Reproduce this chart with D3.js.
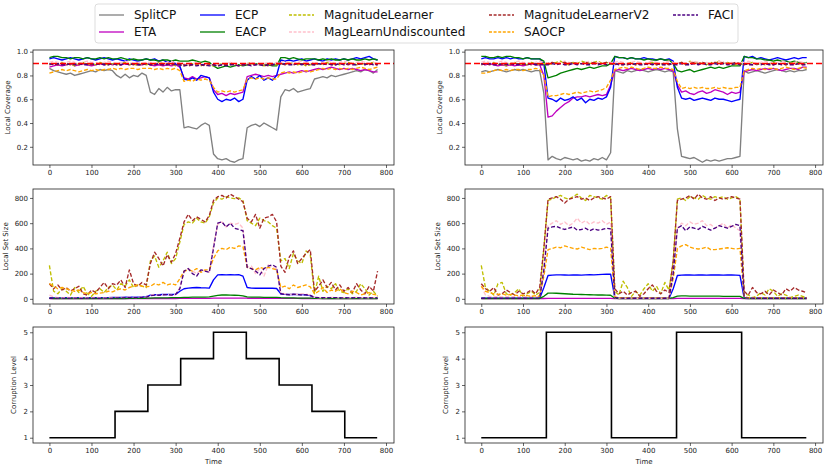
<!DOCTYPE html>
<html>
<head>
<meta charset="utf-8">
<script src="https://cdn.jsdelivr.net/npm/d3@7"></script>
<style>
  body { margin: 0; background: #fff; }
  text { font-family: "DejaVu Sans", sans-serif; }
</style>
</head>
<body>
<div id="chart"></div>
<script>
// time index of the sampled points (every 10 steps)
const timeSteps = d3.range(0, 781, 10);

const methods = ["SplitCP", "ETA", "ECP", "EACP", "MagnitudeLearner", "MagLearnUndiscounted", "MagnitudeLearnerV2", "SAOCP", "FACI"];
const methodColors = ["#808080", "#c000c0", "#0000ff", "#008000", "#bfbf00", "#ffc0cb", "#a52a2a", "#ffa500", "#4b0082"];
const methodDashed = [false, false, false, false, true, true, true, true, true];

const targetCoverage = 0.9;

// ---- local coverage, left (staircase corruption)
const covSplitL = [0.86,0.84,0.83,0.82,0.81,0.82,0.80,0.81,0.82,0.83,0.84,0.83,0.85,0.84,0.85,0.84,
  0.80,0.78,0.81,0.78,0.80,0.79,0.82,0.80, 0.66,0.64,0.69,0.66,0.70,0.67,0.68,0.68,
  0.36,0.37,0.36,0.35,0.38,0.40,0.38, 0.14,0.10,0.09,0.10,0.08,0.07,0.09,0.10,
  0.36,0.38,0.39,0.37,0.40,0.38,0.36,0.34, 0.62,0.68,0.67,0.69,0.66,0.67,0.68,0.69,
  0.77,0.78,0.79,0.78,0.80,0.79,0.80,0.81, 0.82,0.83,0.84,0.83,0.85,0.84,0.82,0.85];
const covEtaL = [0.87,0.88,0.89,0.88,0.89,0.90,0.88,0.89,0.90,0.89,0.88,0.89,0.90,0.89,0.90,0.89,
  0.90,0.89,0.90,0.89,0.90,0.89,0.89,0.90, 0.89,0.88,0.89,0.88,0.89,0.88,0.89,0.87,
  0.78,0.77,0.79,0.77,0.78,0.79,0.78, 0.68,0.64,0.65,0.63,0.65,0.64,0.65,0.66,
  0.79,0.80,0.81,0.80,0.79,0.80,0.79,0.80, 0.81,0.82,0.83,0.82,0.83,0.84,0.83,0.84,
  0.85,0.86,0.85,0.86,0.87,0.86,0.85,0.86, 0.85,0.86,0.85,0.84,0.85,0.84,0.83,0.83];
const covEcpL = [0.94,0.95,0.94,0.93,0.94,0.95,0.94,0.93,0.94,0.95,0.94,0.93,0.94,0.95,0.94,0.93,
  0.94,0.93,0.92,0.94,0.93,0.92,0.93,0.94, 0.93,0.94,0.92,0.93,0.91,0.92,0.90,0.88,
  0.77,0.76,0.78,0.76,0.80,0.79,0.78, 0.66,0.60,0.58,0.60,0.59,0.61,0.58,0.60,
  0.76,0.79,0.77,0.80,0.76,0.78,0.76,0.80, 0.93,0.92,0.93,0.92,0.93,0.94,0.92,0.93,
  0.94,0.93,0.92,0.94,0.93,0.94,0.93,0.94, 0.93,0.94,0.95,0.94,0.95,0.96,0.94,0.93];
const covEacpL = [0.95,0.96,0.96,0.95,0.95,0.94,0.95,0.95,0.94,0.95,0.94,0.94,0.95,0.94,0.95,0.94,
  0.94,0.95,0.94,0.93,0.94,0.93,0.93,0.94, 0.93,0.93,0.92,0.93,0.93,0.92,0.93,0.92,
  0.92,0.92,0.93,0.92,0.91,0.92,0.91, 0.88,0.86,0.87,0.88,0.87,0.88,0.89,0.88,
  0.89,0.90,0.90,0.89,0.90,0.89,0.88,0.88, 0.95,0.95,0.94,0.95,0.94,0.93,0.94,0.94,
  0.94,0.93,0.94,0.93,0.94,0.93,0.93,0.94, 0.93,0.94,0.93,0.93,0.94,0.93,0.94,0.93];
const covMagL = [0.90,0.89,0.90,0.91,0.89,0.90,0.88,0.90,0.91,0.89,0.90,0.89,0.91,0.90,0.89,0.90,
  0.89,0.90,0.91,0.89,0.90,0.88,0.90,0.89, 0.90,0.89,0.91,0.90,0.89,0.90,0.88,0.89,
  0.88,0.89,0.90,0.89,0.88,0.90,0.89, 0.88,0.89,0.90,0.89,0.89,0.90,0.88,0.89,
  0.90,0.91,0.89,0.90,0.88,0.89,0.90,0.89, 0.90,0.89,0.91,0.90,0.89,0.90,0.88,0.89,
  0.90,0.89,0.90,0.91,0.89,0.90,0.89,0.90, 0.91,0.90,0.89,0.90,0.89,0.90,0.91,0.89];
const covUndiscL = [0.91,0.92,0.91,0.90,0.91,0.92,0.91,0.90,0.91,0.92,0.91,0.91,0.90,0.91,0.92,0.91,
  0.90,0.91,0.92,0.91,0.90,0.91,0.90,0.91, 0.91,0.90,0.91,0.90,0.91,0.92,0.90,0.91,
  0.90,0.89,0.90,0.91,0.90,0.89,0.90, 0.89,0.90,0.89,0.90,0.91,0.90,0.89,0.90,
  0.90,0.91,0.90,0.89,0.90,0.91,0.90,0.91, 0.91,0.92,0.91,0.90,0.91,0.92,0.91,0.90,
  0.91,0.90,0.91,0.92,0.91,0.90,0.91,0.92, 0.91,0.90,0.91,0.92,0.91,0.90,0.91,0.90];
const covV2L = [0.89,0.90,0.89,0.90,0.90,0.89,0.90,0.89,0.90,0.90,0.89,0.90,0.89,0.90,0.90,0.89,
  0.90,0.89,0.90,0.90,0.89,0.90,0.89,0.90, 0.89,0.90,0.89,0.89,0.90,0.89,0.90,0.89,
  0.89,0.88,0.89,0.90,0.89,0.88,0.89, 0.89,0.88,0.89,0.89,0.90,0.89,0.88,0.89,
  0.89,0.90,0.89,0.90,0.89,0.88,0.89,0.90, 0.90,0.89,0.90,0.89,0.90,0.90,0.89,0.90,
  0.89,0.90,0.90,0.89,0.90,0.89,0.90,0.90, 0.89,0.90,0.89,0.90,0.90,0.89,0.90,0.89];
const covSaocpL = [0.82,0.83,0.84,0.85,0.84,0.85,0.84,0.83,0.84,0.85,0.84,0.85,0.84,0.85,0.85,0.86,
  0.85,0.86,0.85,0.86,0.86,0.85,0.86,0.86, 0.86,0.85,0.86,0.85,0.86,0.85,0.86,0.84,
  0.75,0.76,0.75,0.77,0.76,0.77,0.76, 0.70,0.66,0.67,0.66,0.67,0.66,0.67,0.68,
  0.77,0.78,0.77,0.78,0.77,0.78,0.77,0.77, 0.82,0.83,0.82,0.83,0.82,0.83,0.84,0.83,
  0.84,0.85,0.86,0.85,0.86,0.85,0.86,0.85, 0.86,0.85,0.86,0.87,0.86,0.85,0.86,0.87];
const covFaciL = [0.90,0.89,0.90,0.89,0.89,0.90,0.89,0.90,0.89,0.89,0.90,0.89,0.90,0.89,0.89,0.90,
  0.89,0.89,0.90,0.89,0.90,0.89,0.89,0.90, 0.89,0.89,0.90,0.89,0.89,0.90,0.89,0.89,
  0.88,0.89,0.89,0.88,0.89,0.89,0.88, 0.89,0.88,0.89,0.88,0.89,0.89,0.88,0.89,
  0.89,0.88,0.89,0.89,0.88,0.89,0.89,0.90, 0.89,0.90,0.89,0.89,0.90,0.89,0.90,0.89,
  0.89,0.90,0.89,0.90,0.89,0.89,0.90,0.89, 0.90,0.89,0.89,0.90,0.89,0.90,0.89,0.89];

// ---- local coverage, right (two bursts)
const covSplitR = [0.83,0.84,0.83,0.84,0.85,0.84,0.83,0.84,0.85,0.84,0.85,0.84,0.83,0.84,0.84,0.65,
  0.09,0.12,0.10,0.09,0.11,0.10,0.09,0.10,0.08,0.09,0.08,0.10,0.09,0.11,0.09,0.15,
  0.84,0.83,0.82,0.84,0.83,0.84,0.85,0.84,0.83,0.84,0.85,0.84,0.83,0.84,0.83,
  0.35,0.12,0.11,0.10,0.11,0.09,0.07,0.09,0.08,0.09,0.08,0.09,0.10,0.10,0.11,0.12,
  0.84,0.82,0.83,0.84,0.83,0.82,0.83,0.84,0.85,0.84,0.83,0.84,0.83,0.84,0.84,0.85];
const covEtaR = [0.90,0.89,0.90,0.89,0.88,0.89,0.88,0.89,0.88,0.89,0.88,0.89,0.90,0.89,0.89,0.80,
  0.45,0.46,0.50,0.53,0.56,0.58,0.61,0.62,0.62,0.63,0.62,0.63,0.64,0.63,0.64,0.72,
  0.84,0.85,0.84,0.85,0.86,0.85,0.84,0.85,0.86,0.85,0.86,0.85,0.86,0.85,0.84,
  0.72,0.66,0.67,0.65,0.64,0.66,0.67,0.65,0.66,0.68,0.67,0.66,0.64,0.66,0.65,0.66,
  0.83,0.84,0.85,0.84,0.85,0.86,0.85,0.86,0.85,0.84,0.85,0.86,0.86,0.85,0.87,0.87];
const covEcpR = [0.94,0.95,0.94,0.94,0.95,0.94,0.95,0.94,0.95,0.94,0.94,0.95,0.94,0.94,0.94,0.90,
  0.61,0.60,0.58,0.61,0.59,0.60,0.62,0.59,0.61,0.57,0.60,0.59,0.61,0.60,0.62,0.70,
  0.96,0.95,0.95,0.94,0.95,0.94,0.94,0.95,0.94,0.94,0.93,0.94,0.93,0.94,0.92,
  0.70,0.61,0.60,0.61,0.59,0.60,0.61,0.60,0.59,0.61,0.60,0.60,0.59,0.58,0.59,0.60,
  0.96,0.95,0.96,0.94,0.95,0.94,0.93,0.94,0.95,0.94,0.93,0.94,0.95,0.94,0.95,0.95];
const covEacpR = [0.96,0.96,0.95,0.95,0.96,0.95,0.96,0.96,0.95,0.95,0.94,0.95,0.94,0.94,0.94,0.92,
  0.78,0.79,0.80,0.82,0.83,0.84,0.85,0.86,0.85,0.86,0.87,0.86,0.87,0.88,0.88,0.90,
  0.96,0.95,0.95,0.94,0.95,0.94,0.94,0.93,0.94,0.93,0.93,0.94,0.93,0.93,0.90,
  0.84,0.83,0.84,0.85,0.83,0.84,0.85,0.86,0.87,0.86,0.87,0.86,0.87,0.88,0.88,0.88,
  0.96,0.95,0.95,0.94,0.94,0.93,0.93,0.92,0.93,0.92,0.92,0.91,0.92,0.91,0.90,0.91];
const covMagR = [0.90,0.89,0.90,0.91,0.89,0.90,0.88,0.90,0.91,0.89,0.90,0.89,0.91,0.90,0.89,0.90,
  0.89,0.90,0.91,0.92,0.90,0.89,0.91,0.90,0.92,0.91,0.90,0.91,0.92,0.90,0.91,0.90,
  0.89,0.90,0.89,0.90,0.91,0.89,0.90,0.89,0.90,0.91,0.89,0.90,0.89,0.90,0.90,
  0.90,0.91,0.89,0.92,0.90,0.91,0.90,0.89,0.91,0.90,0.92,0.90,0.91,0.90,0.89,0.90,
  0.89,0.90,0.91,0.89,0.90,0.89,0.90,0.91,0.89,0.90,0.89,0.90,0.91,0.90,0.89,0.90];
const covUndiscR = [0.91,0.92,0.91,0.90,0.91,0.92,0.91,0.90,0.91,0.92,0.91,0.91,0.90,0.91,0.92,0.91,
  0.90,0.91,0.90,0.91,0.92,0.91,0.90,0.91,0.90,0.91,0.92,0.90,0.91,0.90,0.91,0.91,
  0.91,0.92,0.91,0.90,0.91,0.92,0.91,0.90,0.91,0.92,0.91,0.90,0.91,0.92,0.91,
  0.90,0.91,0.90,0.91,0.92,0.91,0.90,0.91,0.90,0.91,0.92,0.91,0.90,0.91,0.90,0.91,
  0.91,0.92,0.91,0.90,0.91,0.92,0.91,0.90,0.91,0.92,0.91,0.90,0.91,0.92,0.91,0.90];
const covV2R = [0.89,0.90,0.89,0.90,0.90,0.89,0.90,0.89,0.90,0.90,0.89,0.90,0.89,0.90,0.90,0.89,
  0.90,0.91,0.90,0.90,0.91,0.90,0.91,0.90,0.90,0.91,0.90,0.91,0.90,0.90,0.91,0.90,
  0.89,0.90,0.90,0.89,0.90,0.89,0.90,0.90,0.89,0.90,0.89,0.90,0.90,0.89,0.90,
  0.90,0.91,0.90,0.90,0.91,0.90,0.91,0.90,0.90,0.91,0.90,0.91,0.90,0.90,0.91,0.90,
  0.89,0.90,0.89,0.90,0.90,0.89,0.90,0.89,0.90,0.90,0.89,0.90,0.89,0.90,0.90,0.89];
const covSaocpR = [0.82,0.82,0.83,0.84,0.85,0.84,0.85,0.84,0.85,0.85,0.84,0.85,0.85,0.86,0.85,0.80,
  0.62,0.63,0.63,0.64,0.65,0.64,0.65,0.66,0.65,0.66,0.67,0.66,0.67,0.68,0.70,0.76,
  0.85,0.86,0.87,0.86,0.87,0.86,0.85,0.86,0.87,0.86,0.86,0.87,0.86,0.86,0.85,
  0.75,0.69,0.70,0.69,0.70,0.69,0.70,0.69,0.69,0.70,0.69,0.70,0.69,0.69,0.70,0.70,
  0.84,0.85,0.86,0.85,0.86,0.85,0.86,0.86,0.85,0.86,0.87,0.86,0.85,0.86,0.87,0.86];
const covFaciR = [0.90,0.89,0.90,0.89,0.89,0.90,0.89,0.90,0.89,0.89,0.90,0.89,0.90,0.89,0.89,0.89,
  0.89,0.90,0.89,0.90,0.89,0.89,0.90,0.89,0.90,0.89,0.89,0.90,0.89,0.90,0.89,0.90,
  0.90,0.89,0.89,0.90,0.89,0.90,0.89,0.89,0.90,0.89,0.90,0.89,0.89,0.90,0.89,
  0.89,0.90,0.89,0.89,0.90,0.89,0.90,0.89,0.89,0.90,0.89,0.90,0.89,0.89,0.90,0.89,
  0.90,0.89,0.89,0.90,0.89,0.90,0.89,0.89,0.90,0.89,0.90,0.89,0.89,0.90,0.89,0.89];

// ---- local set size, left
const sizeEtaL = [3,2,2,2,2,2,2,2,2,2,2,2,2,2,2,2, 2,2,2,2,3,3,3,3, 3,3,3,3,3,3,3,4,
  4,4,4,4,4,4,4, 5,6,6,6,6,6,6,6, 5,5,5,5,5,5,5,5, 4,4,4,4,4,3,3,3,
  3,3,3,2,2,2,2,2, 2,2,2,2,2,2,2,2];
const sizeEcpL = [8,8,7,8,9,8,8,9,8,9,10,9,10,10,10,11, 12,12,13,13,14,14,15,18,
  30,32,33,34,35,34,35,60, 80,85,88,90,88,87,85, 150,190,192,190,191,190,192,180,
  90,85,84,85,84,85,84,82, 40,35,34,35,34,33,32,25, 10,9,8,8,8,8,7,7, 7,7,7,6,7,7,6,6];
const sizeEacpL = [4,3,3,3,3,3,3,3,3,3,3,3,3,3,3,3, 3,3,3,4,4,4,5,5, 6,7,7,8,8,9,10,10,
  12,12,13,13,14,14,16, 22,28,30,30,29,28,27,24, 15,14,13,13,12,12,12,11,
  9,8,7,7,6,6,6,5, 4,4,3,3,3,3,3,3, 3,3,3,3,3,3,3,3];
const sizeMagL = [265,60,40,80,60,30,90,50,100,40,20,60,80,50,90,110,
  70,120,100,150,90,110,100,90, 300,340,250,300,370,280,320,450,
  590,610,600,640,610,600,650, 760,800,790,810,800,795,800,780,
  620,600,580,640,620,610,580,560, 300,320,240,360,300,280,380,350,
  40,180,60,100,80,120,60,50, 80,40,60,120,80,30,60,20];
const sizeUndiscL = [30,15,10,8,12,10,8,10,12,8,10,12,10,8,10,12, 14,12,10,14,12,10,14,16,
  30,35,28,32,36,30,34,90, 210,240,220,200,230,220,210, 420,590,610,570,600,590,600,560,
  250,260,200,240,180,270,250,240, 45,40,35,38,36,40,38,30,
  12,10,8,10,12,10,8,10, 8,10,12,8,10,8,10,12];
const sizeV2L = [120,80,110,70,90,60,80,100,40,30,70,50,90,130,80,120,
  110,150,90,230,120,100,130,110, 280,370,320,260,350,290,360,480,
  610,670,620,650,630,610,660, 780,810,820,800,830,810,790,770,
  640,610,670,560,640,650,670,610, 260,210,330,380,280,320,360,390,
  60,100,150,90,130,70,110,60, 90,50,120,70,40,100,60,220];
const sizeSaocpL = [120,100,80,90,80,70,60,70,50,40,50,40,45,50,60,55, 70,80,70,90,100,110,100,95,
  100,120,110,130,110,120,110,160, 220,230,220,240,210,230,230, 320,380,400,390,410,400,420,415,
  250,240,230,250,240,250,240,230, 90,100,80,110,90,100,110,95,
  40,60,90,50,70,60,80,50, 40,60,50,30,40,50,35,30];
const sizeFaciL = [5,5,6,5,4,5,6,5,4,5,6,5,5,6,5,6, 8,8,9,10,9,10,12,14,
  25,30,28,32,34,30,35,80, 220,240,200,180,230,220,210, 400,600,610,570,600,560,550,540,
  250,240,220,190,240,260,270,250, 40,35,32,36,34,30,32,28,
  12,10,10,8,9,10,8,8, 8,8,9,8,7,8,8,8];

// ---- local set size, right
const sizeEtaR = [2,2,2,2,2,2,2,2,2,2,2,2,2,2,2, 3, 4,4,4,4,4,4,4,4,4,4,4,4,4,4,4,4,
  2,2,2,2,2,2,2,2,2,2,2,2,2,2, 3, 4,4,4,4,4,4,4,4,4,4,4,4,4,4,4,4,
  2,2,2,2,2,2,2,2,2,2,2,2,2,2,2,2];
const sizeEcpR = [5,5,5,5,5,5,5,5,5,5,5,5,5,5,5, 90,
  185,188,190,190,189,188,190,189,188,190,191,190,192,194,196,195,
  10,5,5,5,5,5,5,5,5,5,5,5,5,5, 80,
  185,188,190,189,188,189,190,188,189,190,189,188,190,189,188,186,
  8,5,5,5,5,5,5,5,5,5,5,5,5,5,5,5];
const sizeEacpR = [3,3,3,3,3,3,3,3,3,3,3,3,3,3,3, 20,
  45,45,44,42,40,38,36,35,34,33,32,31,30,30,29,28,
  5,3,3,3,3,3,3,3,3,3,3,3,3,3, 10,
  22,23,23,22,22,22,21,21,21,21,21,20,20,20,20,20,
  4,3,3,3,3,3,3,3,3,3,3,3,3,3,3,3];
const sizeMagR = [265,90,60,30,120,130,40,30,50,80,20,40,60,30,50, 400,
  780,790,810,820,800,790,810,830,800,780,820,810,800,790,820,800,
  60,30,140,90,20,60,30,80,120,60,100,40,130,70, 300,
  790,800,780,810,800,790,820,800,790,810,800,810,790,800,810,790,
  40,30,10,20,50,30,80,60,20,40,30,10,20,30,20,10];
const sizeUndiscR = [100,30,20,15,20,15,20,15,20,15,20,15,20,15,20, 250,
  580,600,620,590,610,580,600,640,600,620,590,610,600,620,590,610,
  10,6,5,5,6,5,5,6,5,5,6,5,5,6, 200,
  560,600,580,610,590,600,620,580,590,560,580,600,560,590,560,540,
  8,6,5,5,6,5,5,6,5,5,6,5,5,6,5,5];
const sizeV2R = [120,80,60,90,30,40,70,50,30,60,40,50,70,40,90, 400,
  790,800,810,790,760,790,800,810,790,800,780,800,810,800,790,810,
  80,40,60,30,50,60,20,40,80,110,60,40,70,50, 300,
  780,790,800,820,790,830,800,790,810,780,800,790,800,810,800,790,
  60,30,90,50,40,60,30,70,50,30,80,60,90,70,60,50];
const sizeSaocpR = [100,60,50,40,35,40,30,35,30,25,30,25,20,25,20, 180,
  390,400,410,405,420,410,400,395,410,400,390,400,395,400,410,400,
  15,10,10,8,8,8,8,8,8,8,8,8,8,8, 160,
  400,420,430,410,400,395,400,410,390,390,395,400,405,400,395,400,
  15,10,8,8,8,8,8,8,8,8,8,8,8,8,8,8];
const sizeFaciR = [5,5,5,5,5,5,5,5,5,5,5,5,5,5,6, 230,
  560,570,575,560,550,560,570,545,550,560,540,555,545,550,560,555,
  10,6,5,5,5,5,5,5,5,5,5,5,5,5, 200,
  560,580,540,570,560,550,575,560,545,560,580,570,560,575,590,580,
  8,6,5,5,5,5,5,5,5,5,5,5,5,5,5,5];

// ---- corruption schedules
const corrTimesL = [0, 156, 234, 312, 390, 468, 546, 624, 702, 779];
const corrLevelsL = [1, 2, 3, 4, 5, 4, 3, 2, 1, 1];
const corrTimesR = [0, 156, 312, 468, 624, 779];
const corrLevelsR = [1, 5, 1, 5, 1, 1];

const xTicks = [0, 100, 200, 300, 400, 500, 600, 700, 800];

const width = 831, height = 470;
const svg = d3.select("#chart").append("svg")
    .attr("width", width).attr("height", height);

const cols = [{x0: 33, x1: 394}, {x0: 465, x1: 823}];
const rows = [
    {y0: 50, y1: 165, domain: [0.047, 1.014], ticks: [0.2, 0.4, 0.6, 0.8, 1.0], fmt: d3.format(".1f"), label: "Local Coverage", off: 23},
    {y0: 189, y1: 304, domain: [-41, 871], ticks: [0, 200, 400, 600, 800], fmt: d3.format("d"), label: "Local Set Size", off: 25},
    {y0: 327, y1: 443, domain: [0.8, 5.2], ticks: [1, 2, 3, 4, 5], fmt: d3.format("d"), label: "Corruption Level", off: 17}
];

const coverageSeries = [
    [covSplitL, covEtaL, covEcpL, covEacpL, covMagL, covUndiscL, covV2L, covSaocpL, covFaciL],
    [covSplitR, covEtaR, covEcpR, covEacpR, covMagR, covUndiscR, covV2R, covSaocpR, covFaciR]
];
const sizeSeries = [
    [null, sizeEtaL, sizeEcpL, sizeEacpL, sizeMagL, sizeUndiscL, sizeV2L, sizeSaocpL, sizeFaciL],
    [null, sizeEtaR, sizeEcpR, sizeEacpR, sizeMagR, sizeUndiscR, sizeV2R, sizeSaocpR, sizeFaciR]
];
const corrSeries = [[corrTimesL, corrLevelsL], [corrTimesR, corrLevelsR]];

cols.forEach((c, ci) => {
    rows.forEach((r, ri) => {
        const x = d3.scaleLinear().domain([-39, 819]).range([c.x0, c.x1]);
        const y = d3.scaleLinear().domain(r.domain).range([r.y1, r.y0]);
        const g = svg.append("g");

        if (ri < 2) {
            const list = ri === 0 ? coverageSeries[ci] : sizeSeries[ci];
            list.forEach((vals, k) => {
                if (!vals) return;
                const line = d3.line().x((d, i) => x(timeSteps[i])).y(d => y(d));
                g.append("path")
                    .attr("d", line(vals))
                    .attr("fill", "none")
                    .attr("stroke", methodColors[k])
                    .attr("stroke-width", 1.35)
                    .attr("stroke-linejoin", "round")
                    .attr("stroke-dasharray", methodDashed[k] ? "4,2" : null);
            });
            if (ri === 0) {
                g.append("line")
                    .attr("x1", c.x0).attr("x2", c.x1)
                    .attr("y1", y(targetCoverage)).attr("y2", y(targetCoverage))
                    .attr("stroke", "#ff0000").attr("stroke-width", 1.6)
                    .attr("stroke-dasharray", "6,3");
            }
        } else {
            const [ts, lv] = corrSeries[ci];
            const line = d3.line().x((d, i) => x(ts[i])).y(d => y(d)).curve(d3.curveStepAfter);
            g.append("path")
                .attr("d", line(lv))
                .attr("fill", "none")
                .attr("stroke", "#000")
                .attr("stroke-width", 1.6);
        }

        // axes
        const xa = g.append("g").attr("transform", `translate(0,${r.y1})`)
            .call(d3.axisBottom(x).tickValues(xTicks).tickSize(3).tickPadding(2));
        const ya = g.append("g").attr("transform", `translate(${c.x0},0)`)
            .call(d3.axisLeft(y).tickValues(r.ticks).tickFormat(r.fmt).tickSize(3).tickPadding(2));
        [xa, ya].forEach(a => {
            a.select(".domain").remove();
            a.selectAll("text").attr("font-size", 7).attr("fill", "#222")
                .style("font-family", "DejaVu Sans");
            a.selectAll("line").attr("stroke", "#222").attr("stroke-width", 0.7);
        });

        g.append("rect")
            .attr("x", c.x0).attr("y", r.y0)
            .attr("width", c.x1 - c.x0).attr("height", r.y1 - r.y0)
            .attr("fill", "none").attr("stroke", "#222").attr("stroke-width", 0.8);

        g.append("text")
            .attr("transform", `translate(${c.x0 - r.off},${(r.y0 + r.y1) / 2}) rotate(-90)`)
            .attr("text-anchor", "middle")
            .attr("font-size", 7).attr("fill", "#222")
            .text(r.label);

        if (ri === 2) {
            g.append("text")
                .attr("x", (c.x0 + c.x1) / 2).attr("y", 464)
                .attr("text-anchor", "middle")
                .attr("font-size", 7).attr("fill", "#222")
                .text("Time");
        }
    });
});

// legend (matplotlib fills columns first, 2 rows)
const legendCols = [99, 200, 289, 489, 673];
const legendRows = [15, 32];
const legend = svg.append("g");
legend.append("rect")
    .attr("x", 95).attr("y", 4).attr("width", 643).attr("height", 39).attr("rx", 3)
    .attr("fill", "#fff").attr("stroke", "#d4d4d4").attr("stroke-width", 0.8);
methods.forEach((m, k) => {
    const lx = legendCols[Math.floor(k / 2)];
    const ly = legendRows[k % 2];
    legend.append("line")
        .attr("x1", lx).attr("x2", lx + 25).attr("y1", ly).attr("y2", ly)
        .attr("stroke", methodColors[k]).attr("stroke-width", 1.3)
        .attr("stroke-dasharray", methodDashed[k] ? "3,1.6" : null);
    legend.append("text")
        .attr("x", lx + 35).attr("y", ly + 4.3)
        .attr("font-size", 12).attr("fill", "#111")
        .text(m);
});
</script>
</body>
</html>
